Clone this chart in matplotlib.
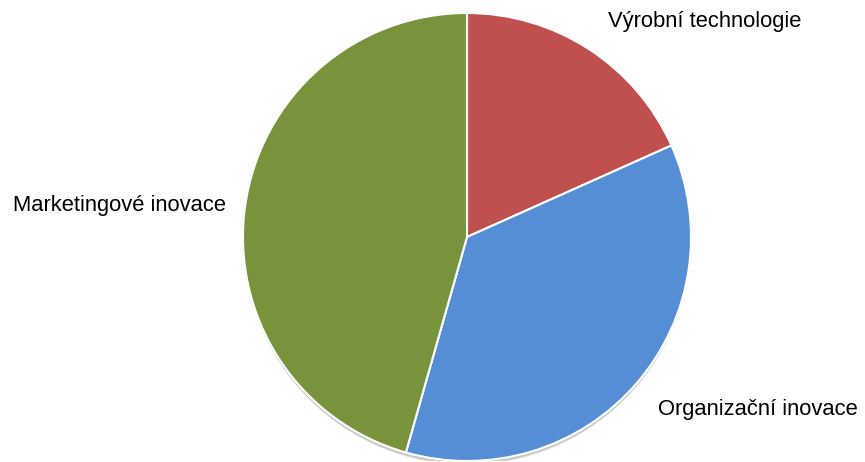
import matplotlib.pyplot as plt
from matplotlib.patches import Circle

plt.rcParams['font.family'] = ['Liberation Sans', 'DejaVu Sans']

labels = ["Výrobní technologie", "Organizační inovace", "Marketingové inovace"]
values = [18.3, 36.1, 45.6]
colors = ["#C0504D", "#558ED5", "#77933C"]

fig = plt.figure(figsize=(8.65, 4.62), dpi=100)
W, H = 865, 462
cx, cy, r = 467, 237, 224
ax = fig.add_axes([(cx - r) / W, (H - cy - r) / H, 2 * r / W, 2 * r / H])

# soft shadow under the pie
for i, a in enumerate([0.05, 0.05, 0.06, 0.07]):
    ax.add_patch(Circle((0, -0.012 - 0.004 * i), 1.0 - 0.002 * i,
                        color="black", alpha=a, lw=0, zorder=0))

ax.pie(values, colors=colors, startangle=90, counterclock=False, radius=1.0,
       wedgeprops=dict(edgecolor="white", linewidth=1.5), frame=True)
ax.set_xlim(-1, 1)
ax.set_ylim(-1, 1)
ax.axis("off")

# category labels
fs = 15.8
fig.text(608 / W, 1 - 22 / H, labels[0], fontsize=fs, va="center", ha="left")
fig.text(658 / W, 1 - 410 / H, labels[1], fontsize=fs, va="center", ha="left")
fig.text(226 / W, 1 - 205 / H, labels[2], fontsize=fs, va="center", ha="right")

fig.savefig("out.png", dpi=100)
